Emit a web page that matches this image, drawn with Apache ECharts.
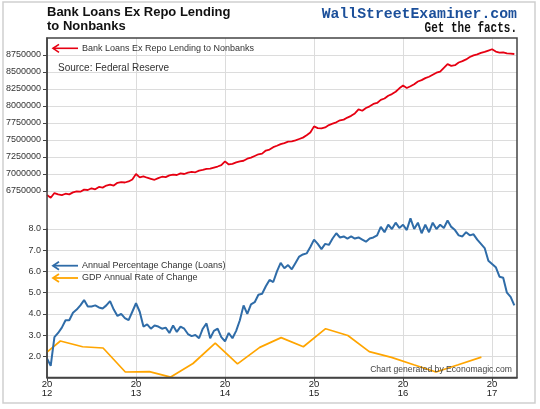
<!DOCTYPE html>
<html><head><meta charset="utf-8">
<script src="https://cdn.jsdelivr.net/npm/echarts@6/dist/echarts.min.js"></script>
<style>html,body{margin:0;padding:0;background:#fff}#c{width:540px;height:409px}</style>
</head><body><div id="c"></div>
<script>
// ---- data ----
const loanStartYear = 2012;          // first observation
const loanStepYears = 1 / 24;        // semi-monthly observations
const loanLevels = [
  6690000, 6650000, 6720000, 6700000, 6690000, 6710000, 6700000, 6730000, 6745000, 6740000, 6770000, 6765000,
  6790000, 6775000, 6810000, 6800000, 6830000, 6845000, 6830000, 6870000, 6880000, 6875000, 6890000, 6920000,
  7000000, 6950000, 6965000, 6945000, 6930000, 6915000, 6940000, 6960000, 6955000, 6980000, 6990000, 6985000,
  7010000, 7000000, 7020000, 7030000, 7025000, 7050000, 7060000, 7075000, 7080000, 7095000, 7110000, 7130000,
  7185000, 7140000, 7150000, 7170000, 7185000, 7195000, 7225000, 7240000, 7265000, 7290000, 7300000, 7345000,
  7360000, 7395000, 7415000, 7440000, 7455000, 7475000, 7480000, 7495000, 7515000, 7535000, 7570000, 7610000,
  7700000, 7675000, 7670000, 7685000, 7720000, 7740000, 7760000, 7790000, 7800000, 7830000, 7855000, 7890000,
  7950000, 7930000, 7970000, 7995000, 8030000, 8045000, 8090000, 8110000, 8150000, 8175000, 8210000, 8260000,
  8300000, 8265000, 8290000, 8320000, 8360000, 8380000, 8410000, 8430000, 8460000, 8490000, 8505000, 8560000,
  8615000, 8590000, 8600000, 8640000, 8660000, 8685000, 8720000, 8745000, 8760000, 8780000, 8795000, 8815000,
  8835000, 8800000, 8785000, 8790000, 8775000, 8770000, 8765000
];
const loanGrowth = [
  1.9, 1.55, 2.9, 3.1, 3.35, 3.7, 3.7, 4.05, 4.2, 4.4, 4.65, 4.35,
  4.35, 4.4, 4.3, 4.25, 4.4, 4.6, 4.2, 3.9, 4.0, 3.8, 3.7, 4.1,
  4.5, 4.1, 3.4, 3.5, 3.3, 3.45, 3.4, 3.3, 3.35, 3.1, 3.45, 3.15,
  3.4, 3.3, 3.05, 2.95, 3.0, 2.85, 3.3, 3.55, 2.85, 3.2, 3.3, 2.9,
  2.7, 3.1, 2.85, 3.2, 3.7, 4.4, 4.0, 4.45, 4.55, 4.9, 4.95, 5.3,
  5.6, 5.5, 6.0, 6.4, 6.15, 6.3, 6.1, 6.4, 6.7, 6.8, 6.85, 7.15,
  7.5, 7.3, 7.05, 7.3, 7.25, 7.55, 7.8, 7.6, 7.65, 7.55, 7.65, 7.55,
  7.6, 7.5, 7.4, 7.55, 7.6, 7.7, 8.1, 7.85, 8.2, 8.0, 8.3, 8.05,
  8.2, 7.95, 8.5, 8.0, 8.3, 7.8, 8.2, 7.85, 8.3, 8.0, 8.2, 8.05,
  8.4, 8.1, 7.95, 7.7, 7.65, 7.85, 7.7, 7.75, 7.5, 7.3, 7.1, 6.5,
  6.35, 6.2, 5.75, 5.7, 5.0, 4.8, 4.4
];
const gdpDates = [2012.0, 2012.15, 2012.40, 2012.63, 2012.88, 2013.15, 2013.39, 2013.64, 2013.89, 2014.14, 2014.39,
  2014.63, 2014.88, 2015.13, 2015.38, 2015.62, 2015.87, 2016.12, 2016.37, 2016.62, 2016.88];
const gdpGrowth = [2.2, 2.72, 2.45, 2.39, 1.26, 1.28, 1.02, 1.66, 2.62, 1.64, 2.42,
  2.88, 2.45, 3.3, 2.98, 2.22, 1.95, 1.6, 1.26, 1.6, 1.96];
const xTickYears = [2012, 2013, 2014, 2015, 2016, 2017];
const levelTicks = [6750000, 7000000, 7250000, 7500000, 7750000, 8000000, 8250000, 8500000, 8750000];
const growthTicks = [2, 3, 4, 5, 6, 7, 8];

// ---- chart ----
const X_MIN = 2012, X_MAX = 2017.28;
const FONT = 'Arial, "Liberation Sans", sans-serif';
const MONO = '"Liberation Mono", "DejaVu Sans Mono", monospace';
const GRID_COLOR = '#dcdcdc';
const AXIS_COLOR = '#444';

const chart = echarts.init(document.getElementById('c'), null, {renderer: 'canvas'});

const hiddenX = (gi) => ({gridIndex: gi, type: 'value', min: X_MIN, max: X_MAX, show: false});
const yBase = {
  type: 'value',
  axisLine: {show: true, lineStyle: {color: AXIS_COLOR, width: 1.5}},
  axisTick: {show: true, length: 4, lineStyle: {color: AXIS_COLOR}},
  splitLine: {show: true, lineStyle: {color: GRID_COLOR, width: 1}},
};

chart.setOption({
  animation: false,
  backgroundColor: '#fff',
  grid: [
    {left: 47, right: 23, top: 38, bottom: 31.5, show: false},
    {left: 47, right: 23, top: 38, height: 153, show: false},
    {left: 47, right: 23, top: 229, bottom: 31.5, show: false}
  ],
  xAxis: [
    {
      gridIndex: 0, type: 'value', min: X_MIN, max: X_MAX, interval: 1,
      axisLine: {show: true, lineStyle: {color: AXIS_COLOR, width: 1.5}},
      axisTick: {show: true, length: 4, lineStyle: {color: AXIS_COLOR}, customValues: xTickYears},
      axisLabel: {
        customValues: xTickYears,
        fontFamily: FONT, fontSize: 9.5, color: '#222', lineHeight: 9.5, margin: 2,
        formatter: v => (Math.abs(v - Math.round(v)) < 1e-6) ? '20\n' + String(Math.round(v)).slice(2) : ''
      },
      splitLine: {show: true, lineStyle: {color: GRID_COLOR, width: 1}}
    },
    hiddenX(1),
    hiddenX(2)
  ],
  yAxis: [
    {gridIndex: 0, type: 'value', min: 0, max: 1, show: false},
    Object.assign({}, yBase, {
      gridIndex: 1, min: 6750000, max: 9000000, interval: 250000,
      axisTick: Object.assign({}, yBase.axisTick, {customValues: levelTicks}),
      axisLabel: {customValues: levelTicks, fontFamily: FONT, fontSize: 9, color: '#333', margin: 6,
        formatter: v => (v >= 9000000 ? '' : String(v))}
    }),
    Object.assign({}, yBase, {
      gridIndex: 2, min: 1, max: 8, interval: 1,
      axisTick: Object.assign({}, yBase.axisTick, {customValues: growthTicks}),
      axisLabel: {customValues: growthTicks, fontFamily: FONT, fontSize: 9, color: '#333', margin: 6,
        formatter: v => (v <= 1 ? '' : v.toFixed(1))}
    })
  ],
  series: [
    {
      name: 'Bank Loans Ex Repo Lending to Nonbanks', type: 'line', xAxisIndex: 1, yAxisIndex: 1,
      data: loanLevels.map((v, i) => [loanStartYear + i * loanStepYears, v]),
      showSymbol: false, symbol: 'none', clip: false, silent: true, z: 3,
      lineStyle: {color: '#e60012', width: 1.8}
    },
    {
      name: 'Annual Percentage Change (Loans)', type: 'line', xAxisIndex: 2, yAxisIndex: 2,
      data: loanGrowth.map((v, i) => [loanStartYear + i * loanStepYears, v]),
      showSymbol: false, symbol: 'none', clip: false, silent: true, z: 3,
      lineStyle: {color: '#2f6ca8', width: 2}
    },
    {
      name: 'GDP Annual Rate of Change', type: 'line', xAxisIndex: 2, yAxisIndex: 2,
      data: gdpDates.map((d, i) => [d, gdpGrowth[i]]),
      showSymbol: false, symbol: 'none', clip: false, silent: true, z: 2,
      lineStyle: {color: '#ffa500', width: 1.7}
    }
  ],
  graphic: [
    {type: 'rect', z: 1, silent: true, shape: {x: 3, y: 2, width: 532, height: 401},
      style: {fill: 'none', stroke: '#cfcfcf', lineWidth: 1.5}},
    {type: 'rect', z: 100, silent: true, shape: {x: 47, y: 38, width: 470, height: 339.5},
      style: {fill: 'none', stroke: AXIS_COLOR, lineWidth: 1.5}},
    {type: 'text', z: 100, silent: true, x: 47, y: 6,
      style: {text: 'Bank Loans Ex Repo Lending\nto Nonbanks', font: 'bold 13px ' + FONT, fill: '#111',
        lineHeight: 13.5, verticalAlign: 'top', align: 'left'}},
    {type: 'text', z: 100, silent: true, x: 517, y: 14,
      style: {text: 'WallStreetExaminer.com', font: 'bold 14.8px ' + MONO, fill: '#1b4f9a',
        align: 'right', verticalAlign: 'middle'}},
    {type: 'text', z: 100, silent: true, x: 517, y: 29, scaleY: 1.25,
      style: {text: 'Get the facts.', font: 'bold 11px ' + MONO, fill: '#111',
        align: 'right', verticalAlign: 'middle'}},
    // legend: red
    {type: 'line', z: 100, silent: true, shape: {x1: 53, y1: 48.3, x2: 78, y2: 48.3}, style: {stroke: '#e60012', lineWidth: 1.6}},
    {type: 'polyline', z: 100, silent: true, shape: {points: [[59, 44.3], [53, 48.3], [59, 52.3]]}, style: {stroke: '#e60012', lineWidth: 1.6, fill: 'none'}},
    {type: 'text', z: 100, silent: true, x: 82, y: 48.3,
      style: {text: 'Bank Loans Ex Repo Lending to Nonbanks', font: '9px ' + FONT, fill: '#333', verticalAlign: 'middle'}},
    {type: 'text', z: 100, silent: true, x: 58, y: 68.5,
      style: {text: 'Source: Federal Reserve', font: '10px ' + FONT, fill: '#333', verticalAlign: 'middle'}},
    // legend: blue
    {type: 'line', z: 100, silent: true, shape: {x1: 53, y1: 265.7, x2: 78, y2: 265.7}, style: {stroke: '#2f6ca8', lineWidth: 1.8}},
    {type: 'polyline', z: 100, silent: true, shape: {points: [[59, 261.7], [53, 265.7], [59, 269.7]]}, style: {stroke: '#2f6ca8', lineWidth: 1.8, fill: 'none'}},
    {type: 'text', z: 100, silent: true, x: 82, y: 265.7,
      style: {text: 'Annual Percentage Change (Loans)', font: '9px ' + FONT, fill: '#333', verticalAlign: 'middle'}},
    // legend: orange
    {type: 'line', z: 100, silent: true, shape: {x1: 53, y1: 278, x2: 78, y2: 278}, style: {stroke: '#ffa500', lineWidth: 1.8}},
    {type: 'polyline', z: 100, silent: true, shape: {points: [[59, 274], [53, 278], [59, 282]]}, style: {stroke: '#ffa500', lineWidth: 1.8, fill: 'none'}},
    {type: 'text', z: 100, silent: true, x: 82, y: 278,
      style: {text: 'GDP Annual Rate of Change', font: '9px ' + FONT, fill: '#333', verticalAlign: 'middle'}},
    // credit
    {type: 'text', z: 100, silent: true, x: 512, y: 370,
      style: {text: 'Chart generated by Economagic.com', font: '8.6px ' + FONT, fill: '#444', align: 'right', verticalAlign: 'middle'}}
  ]
});
</script></body></html>
